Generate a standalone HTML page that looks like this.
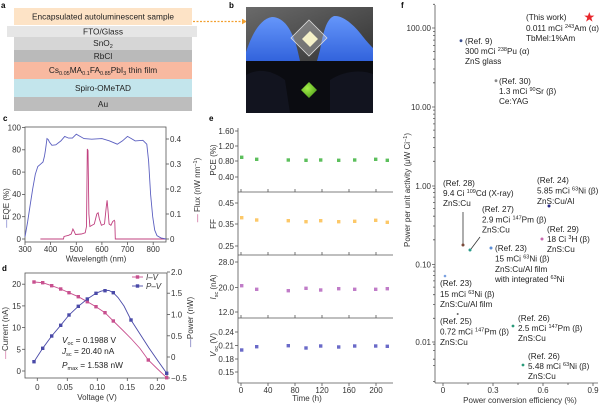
<!DOCTYPE html>
<html><head><meta charset="utf-8">
<style>
html,body{margin:0;padding:0;background:#fff;}
svg{display:block;font-family:"Liberation Sans",Arial,sans-serif;}
</style></head>
<body>
<svg width="600" height="406" viewBox="0 0 600 406" xmlns="http://www.w3.org/2000/svg">
<defs>
<linearGradient id="bgTop" x1="0" y1="0" x2="1" y2="1"><stop offset="0" stop-color="#6a6a6a"/><stop offset="1" stop-color="#333"/></linearGradient>
<linearGradient id="glove" x1="0" y1="0" x2="0" y2="1"><stop offset="0" stop-color="#6596fa"/><stop offset="1" stop-color="#3263dc"/></linearGradient>
<radialGradient id="green" cx="0.4" cy="0.4" r="0.7"><stop offset="0" stop-color="#a6f04a"/><stop offset="1" stop-color="#4a9a18"/></radialGradient>
</defs>

<!-- ============ Panel a ============ -->
<text x="1" y="8" font-size="8" font-weight="bold">a</text>
<rect x="14" y="8" width="178" height="17" fill="#fde3c6"/>
<text x="103" y="19.5" font-size="8.3" text-anchor="middle" fill="#222">Encapsulated autoluminescent sample</text>
<rect x="7" y="26" width="190" height="11" fill="#e6e6e6"/>
<text x="103" y="34.5" font-size="8.3" text-anchor="middle" fill="#222">FTO/Glass</text>
<rect x="14" y="37" width="178" height="13" fill="#d6d6d6"/>
<text x="103" y="46" font-size="8.3" text-anchor="middle" fill="#222">SnO<tspan font-size="5.5" dy="2">2</tspan></text>
<rect x="14" y="50" width="178" height="12" fill="#bababa"/>
<text x="103" y="59" font-size="8.3" text-anchor="middle" fill="#222">RbCl</text>
<rect x="14" y="62" width="178" height="17" fill="#f8b9a0"/>
<text x="103" y="73" font-size="8.3" text-anchor="middle" fill="#222">Cs<tspan font-size="5.5" dy="2">0.05</tspan><tspan dy="-2">MA</tspan><tspan font-size="5.5" dy="2">0.1</tspan><tspan dy="-2">FA</tspan><tspan font-size="5.5" dy="2">0.85</tspan><tspan dy="-2">PbI</tspan><tspan font-size="5.5" dy="2">3</tspan><tspan dy="-2"> thin film</tspan></text>
<rect x="14" y="79" width="178" height="18" fill="#c3e5ec"/>
<text x="103" y="91" font-size="8.3" text-anchor="middle" fill="#222">Spiro-OMeTAD</text>
<rect x="14" y="97" width="178" height="14" fill="#bdbdbd"/>
<text x="103" y="107" font-size="8.3" text-anchor="middle" fill="#222">Au</text>
<line x1="193" y1="21.5" x2="243" y2="21.5" stroke="#f2a030" stroke-width="1.2" stroke-dasharray="2,1.5"/>
<polygon points="242,18.8 247,21.5 242,24.2" fill="#f2a030"/>

<!-- ============ Panel b ============ -->
<text x="229" y="8" font-size="8" font-weight="bold">b</text>
<rect x="246" y="7" width="127" height="54" fill="url(#bgTop)"/>
<path d="M246,52 C252,34 260,19 272,17 C284,17 292,30 297,48 L300,61 L246,61 Z" fill="url(#glove)"/>
<path d="M320,50 C323,34 326,19 334,16 C344,15 356,27 364,38 C368,43 372,47 373,48 L373,61 L317,61 Z" fill="url(#glove)"/>
<polygon points="309,20 327,38 309,56 291,38" fill="rgba(220,220,220,0.3)" stroke="#dcdcdc" stroke-width="0.8"/>
<polygon points="310,31 318,39 310,47 302,39" fill="#f5f1c8"/>
<rect x="246" y="61" width="127" height="52" fill="#0b0c11"/>
<path d="M246,75 C258,68 272,70 285,80 L290,113 L246,113 Z" fill="#12141f"/>
<path d="M330,80 C345,70 362,70 373,74 L373,113 L330,113 Z" fill="#12141f"/>
<polygon points="309,82 317,90 309,98 301,90" fill="url(#green)"/>

<!-- ============ Panel c ============ -->
<text x="3" y="121" font-size="8" font-weight="bold">c</text>
<rect x="25" y="127" width="141" height="115" fill="none" stroke="#555" stroke-width="0.8"/>
<g stroke="#555" stroke-width="0.8">
<line x1="22" y1="239" x2="25" y2="239"/><line x1="22" y1="216.7" x2="25" y2="216.7"/><line x1="22" y1="194.4" x2="25" y2="194.4"/><line x1="22" y1="172.1" x2="25" y2="172.1"/><line x1="22" y1="149.8" x2="25" y2="149.8"/><line x1="22" y1="127.5" x2="25" y2="127.5"/>
<line x1="166" y1="239" x2="169" y2="239"/><line x1="166" y1="214" x2="169" y2="214"/><line x1="166" y1="189" x2="169" y2="189"/><line x1="166" y1="164" x2="169" y2="164"/><line x1="166" y1="139" x2="169" y2="139"/>
<line x1="25" y1="242" x2="25" y2="245"/><line x1="50.6" y1="242" x2="50.6" y2="245"/><line x1="76.3" y1="242" x2="76.3" y2="245"/><line x1="101.9" y1="242" x2="101.9" y2="245"/><line x1="127.5" y1="242" x2="127.5" y2="245"/><line x1="153.2" y1="242" x2="153.2" y2="245"/>
</g>
<g font-size="8" fill="#333" text-anchor="end">
<text x="21" y="242">0</text><text x="21" y="219.5">20</text><text x="21" y="197">40</text><text x="21" y="175">60</text><text x="21" y="152.5">80</text><text x="21" y="130.5">100</text>
</g>
<g font-size="8" fill="#333">
<text x="170" y="242">0</text><text x="170" y="217">0.1</text><text x="170" y="192">0.2</text><text x="170" y="167">0.3</text><text x="170" y="142">0.4</text>
</g>
<g font-size="8" fill="#333" text-anchor="middle">
<text x="25" y="252">300</text><text x="50.6" y="252">400</text><text x="76.3" y="252">500</text><text x="101.9" y="252">600</text><text x="127.5" y="252">700</text><text x="153.2" y="252">800</text>
<text x="96" y="261.5">Wavelength (nm)</text>
</g>
<text transform="translate(9,208) rotate(-90)" font-size="8" fill="#333" text-anchor="middle"><tspan fill="#5b5fc0">—</tspan>EQE (%)</text>
<text transform="translate(200,190) rotate(-90)" font-size="8" fill="#333" text-anchor="middle"><tspan fill="#c0407f">—</tspan> Flux (nW nm<tspan font-size="5.5" dy="-3">−1</tspan><tspan dy="3">)</tspan></text>
<polyline fill="none" stroke="#c0407f" stroke-width="0.9" points="40.4,239 63.5,239 64,236.5 68.6,235.3 71.2,234 72.9,229 74.2,231.5 75.5,234.5 81.4,234 85.2,232.8 86.5,226.5 87.3,149 88,150.5 88.9,214 89.9,226.5 94.3,224 96.8,214 98.1,212.8 99.4,219 101.4,225.3 104.5,224 106.3,206.5 107.1,200.3 107.9,209 109.1,224 110.9,225.3 112.7,221.5 114.3,220.3 114.8,221.5 115.3,239 166,239"/>
<polyline fill="none" stroke="#5b5fc0" stroke-width="0.9" points="25,236.8 27.6,222 30.1,205.5 32.7,188.8 35.3,174.3 37.8,166.5 40.4,164.3 43,162 44.5,156 45.5,149.8 47,138.6 48.2,139.5 49.4,142 51.9,145.3 55.8,144.8 60.9,140.9 64.7,136.4 68.6,138.1 72.4,138.1 76.3,134.2 80.1,136.4 84,138.6 91.7,139.2 101.9,138.6 109.6,140.9 117.3,144.2 122.4,140.9 127.5,136.4 131.4,138.6 135.2,140.9 142.9,140.3 146.8,144.2 148.6,161 150.6,194.4 152.7,216.7 154.7,230.1 157,235.7 160.9,237.9 166,239"/>

<!-- ============ Panel d ============ -->
<text x="2" y="271" font-size="8" font-weight="bold">d</text>
<rect x="25" y="273" width="142" height="105" fill="none" stroke="#555" stroke-width="0.8"/>
<g stroke="#555" stroke-width="0.8">
<line x1="22" y1="371" x2="25" y2="371"/><line x1="22" y1="349.3" x2="25" y2="349.3"/><line x1="22" y1="327.6" x2="25" y2="327.6"/><line x1="22" y1="305.9" x2="25" y2="305.9"/><line x1="22" y1="284.2" x2="25" y2="284.2"/>
<line x1="167" y1="272" x2="170" y2="272"/><line x1="167" y1="293.2" x2="170" y2="293.2"/><line x1="167" y1="314.6" x2="170" y2="314.6"/><line x1="167" y1="335.8" x2="170" y2="335.8"/><line x1="167" y1="357" x2="170" y2="357"/><line x1="167" y1="378" x2="170" y2="378"/>
<line x1="37.3" y1="378" x2="37.3" y2="381"/><line x1="67.3" y1="378" x2="67.3" y2="381"/><line x1="97.3" y1="378" x2="97.3" y2="381"/><line x1="127.3" y1="378" x2="127.3" y2="381"/><line x1="157.3" y1="378" x2="157.3" y2="381"/>
</g>
<g font-size="8" fill="#333" text-anchor="end">
<text x="21" y="374">0</text><text x="21" y="352.3">5</text><text x="21" y="330.6">10</text><text x="21" y="308.9">15</text><text x="21" y="287.2">20</text>
</g>
<g font-size="8" fill="#333">
<text x="171" y="275">2.0</text><text x="171" y="296.2">1.5</text><text x="171" y="317.6">1.0</text><text x="171" y="338.8">0.5</text><text x="171" y="360">0</text><text x="171" y="381">−0.5</text>
</g>
<g font-size="8" fill="#333" text-anchor="middle">
<text x="37.3" y="390">0</text><text x="65" y="390">0.05</text><text x="97.3" y="390">0.10</text><text x="127.3" y="390">0.15</text><text x="157.3" y="390">0.20</text>
<text x="97" y="400">Voltage (V)</text>
</g>
<text transform="translate(8,333) rotate(-90)" font-size="8" fill="#333" text-anchor="middle"><tspan fill="#c8508f">—</tspan>Current (nA)</text>
<text transform="translate(193,322) rotate(-90)" font-size="8" fill="#333" text-anchor="middle"><tspan fill="#4a4aa8">—</tspan>Power (nW)</text>
<polyline fill="none" stroke="#c8508f" stroke-width="0.9" points="34,282 42.7,282.7 51.7,285.7 60.7,289 69,292.7 78.3,296.7 87.3,301.7 96,306.7 105,312.7 113.3,321 122,329.5 131,338.5 140,348.5 148.3,360 157,368.5 166.7,377.7"/>
<polyline fill="none" stroke="#4a4aa8" stroke-width="0.9" points="34,361.7 42.7,348.3 51.7,336 60.7,325.3 69,315 78.3,306.3 87.3,299 96,293.3 101,291.2 105,290.3 109,290.5 113.3,292.7 118,297.5 124,306 131,320 140,334 149,348 158,361 166.7,373.3"/>
<g fill="#c8508f">
<rect x="32.3" y="280.3" width="3.4" height="3.4"/><rect x="41" y="281" width="3.4" height="3.4"/><rect x="50" y="284" width="3.4" height="3.4"/><rect x="59" y="287.3" width="3.4" height="3.4"/><rect x="67.3" y="291" width="3.4" height="3.4"/><rect x="76.6" y="295" width="3.4" height="3.4"/><rect x="85.6" y="300" width="3.4" height="3.4"/><rect x="94.3" y="305" width="3.4" height="3.4"/><rect x="103.3" y="311" width="3.4" height="3.4"/><rect x="111.6" y="319.3" width="3.4" height="3.4"/><rect x="146.6" y="358.3" width="3.4" height="3.4"/><rect x="165" y="376" width="3.4" height="3.4"/>
</g>
<g fill="#4a4aa8">
<rect x="32.3" y="360" width="3.4" height="3.4"/><rect x="41" y="346.6" width="3.4" height="3.4"/><rect x="50" y="334.3" width="3.4" height="3.4"/><rect x="59" y="323.6" width="3.4" height="3.4"/><rect x="67.3" y="313.3" width="3.4" height="3.4"/><rect x="76.6" y="304.6" width="3.4" height="3.4"/><rect x="85.6" y="297.3" width="3.4" height="3.4"/><rect x="94.3" y="291.6" width="3.4" height="3.4"/><rect x="103.3" y="289" width="3.4" height="3.4"/><rect x="111.6" y="291" width="3.4" height="3.4"/><rect x="129.3" y="318.3" width="3.4" height="3.4"/><rect x="165" y="371.6" width="3.4" height="3.4"/>
</g>
<line x1="132" y1="277" x2="143" y2="277" stroke="#c8508f" stroke-width="0.9"/><rect x="135.8" y="275.3" width="3.4" height="3.4" fill="#c8508f"/>
<text x="146" y="280" font-size="8" font-style="italic" fill="#333">I–V</text>
<line x1="132" y1="286" x2="143" y2="286" stroke="#4a4aa8" stroke-width="0.9"/><rect x="135.8" y="284.3" width="3.4" height="3.4" fill="#4a4aa8"/>
<text x="146" y="289" font-size="8" font-style="italic" fill="#333">P–V</text>
<g font-size="8.3" fill="#222">
<text x="62" y="343"><tspan font-style="italic">V</tspan><tspan font-size="5.5" dy="2">oc</tspan><tspan dy="-2"> = 0.1988 V</tspan></text>
<text x="62" y="354"><tspan font-style="italic">J</tspan><tspan font-size="5.5" dy="2">sc</tspan><tspan dy="-2"> = 20.40 nA</tspan></text>
<text x="62" y="368"><tspan font-style="italic">P</tspan><tspan font-size="5.5" dy="2">max</tspan><tspan dy="-2"> = 1.538 nW</tspan></text>
</g>

<!-- ============ Panel e ============ -->
<text x="209" y="121" font-size="8" font-weight="bold">e</text>
<g stroke="#555" stroke-width="0.8">
<line x1="238" y1="128" x2="238" y2="383"/>
<line x1="238" y1="192" x2="393" y2="192"/><line x1="238" y1="255" x2="393" y2="255"/><line x1="238" y1="318" x2="393" y2="318"/><line x1="238" y1="383" x2="393" y2="383"/>
<line x1="235" y1="131" x2="238" y2="131"/><line x1="235" y1="146" x2="238" y2="146"/><line x1="235" y1="161" x2="238" y2="161"/><line x1="235" y1="177" x2="238" y2="177"/>
<line x1="235" y1="203" x2="238" y2="203"/><line x1="235" y1="224" x2="238" y2="224"/><line x1="235" y1="246" x2="238" y2="246"/>
<line x1="235" y1="262" x2="238" y2="262"/><line x1="235" y1="287.5" x2="238" y2="287.5"/><line x1="235" y1="312" x2="238" y2="312"/>
<line x1="235" y1="332" x2="238" y2="332"/><line x1="235" y1="345.5" x2="238" y2="345.5"/><line x1="235" y1="359" x2="238" y2="359"/><line x1="235" y1="372" x2="238" y2="372"/>
</g>
<g stroke="#555" stroke-width="0.8">
<path d="M241,192v-3M268,192v-3M295,192v-3M322,192v-3M349,192v-3M376,192v-3"/>
<path d="M241,255v-3M268,255v-3M295,255v-3M322,255v-3M349,255v-3M376,255v-3"/>
<path d="M241,318v-3M268,318v-3M295,318v-3M322,318v-3M349,318v-3M376,318v-3"/>
<path d="M241,383v3M268,383v3M295,383v3M322,383v3M349,383v3M376,383v3"/>
</g>
<g font-size="8" fill="#333" text-anchor="end">
<text x="234" y="134">1.60</text><text x="234" y="149">1.20</text><text x="234" y="164">0.80</text><text x="234" y="180">0.40</text>
<text x="234" y="206">0.45</text><text x="234" y="227">0.35</text><text x="234" y="249">0.25</text>
<text x="234" y="265">28.0</text><text x="234" y="290.5">20.0</text><text x="234" y="315">12.0</text>
<text x="234" y="335">0.24</text><text x="234" y="348.5">0.21</text><text x="234" y="362">0.18</text><text x="234" y="375">0.15</text>
</g>
<g font-size="8" fill="#333" text-anchor="middle">
<text x="241" y="393">0</text><text x="268" y="393">40</text><text x="295" y="393">80</text><text x="322" y="393">120</text><text x="349" y="393">160</text><text x="376" y="393">200</text>
<text x="307" y="401">Time (h)</text>
</g>
<g font-size="8" fill="#333" text-anchor="middle">
<text transform="translate(216,160) rotate(-90)">PCE (%)</text>
<text transform="translate(216,224) rotate(-90)">FF</text>
<text transform="translate(216,287) rotate(-90)"><tspan font-style="italic">I</tspan><tspan font-size="5.5" dy="2">sc</tspan><tspan dy="-2"> (nA)</tspan></text>
<text transform="translate(216,345) rotate(-90)"><tspan font-style="italic">V</tspan><tspan font-size="5.5" dy="2">oc</tspan><tspan dy="-2"> (V)</tspan></text>
</g>
<g fill="#5cbf5c">
<rect x="240" y="155.6" width="3.4" height="3.4"/><rect x="255" y="157.6" width="3.4" height="3.4"/><rect x="286.6" y="158.3" width="3.4" height="3.4"/><rect x="304.3" y="158.6" width="3.4" height="3.4"/><rect x="319" y="158.3" width="3.4" height="3.4"/><rect x="337" y="158.6" width="3.4" height="3.4"/><rect x="353" y="158.3" width="3.4" height="3.4"/><rect x="374" y="157.6" width="3.4" height="3.4"/><rect x="385.6" y="158.6" width="3.4" height="3.4"/>
</g>
<g fill="#fcc868">
<rect x="240" y="216" width="3.4" height="3.4"/><rect x="255" y="218.3" width="3.4" height="3.4"/><rect x="286.6" y="219" width="3.4" height="3.4"/><rect x="304.3" y="220" width="3.4" height="3.4"/><rect x="319" y="219" width="3.4" height="3.4"/><rect x="337" y="220" width="3.4" height="3.4"/><rect x="353" y="219.6" width="3.4" height="3.4"/><rect x="374" y="218.6" width="3.4" height="3.4"/><rect x="385.6" y="220.6" width="3.4" height="3.4"/>
</g>
<g fill="#c07cc8">
<rect x="240" y="284" width="3.4" height="3.4"/><rect x="255" y="287.6" width="3.4" height="3.4"/><rect x="286.6" y="289" width="3.4" height="3.4"/><rect x="304.3" y="286.6" width="3.4" height="3.4"/><rect x="319" y="288.3" width="3.4" height="3.4"/><rect x="337" y="287" width="3.4" height="3.4"/><rect x="353" y="287.6" width="3.4" height="3.4"/><rect x="374" y="287.6" width="3.4" height="3.4"/><rect x="385.6" y="287" width="3.4" height="3.4"/>
</g>
<g fill="#6a6ac8">
<rect x="240" y="348.3" width="3.4" height="3.4"/><rect x="255" y="345" width="3.4" height="3.4"/><rect x="286.6" y="344" width="3.4" height="3.4"/><rect x="304.3" y="346.3" width="3.4" height="3.4"/><rect x="319" y="344.3" width="3.4" height="3.4"/><rect x="337" y="345.3" width="3.4" height="3.4"/><rect x="353" y="344.3" width="3.4" height="3.4"/><rect x="374" y="344.3" width="3.4" height="3.4"/><rect x="385.6" y="344.6" width="3.4" height="3.4"/>
</g>

<!-- ============ Panel f ============ -->
<text x="401" y="8" font-size="8" font-weight="bold">f</text>
<g stroke="#555" stroke-width="0.8">
<line x1="435" y1="5" x2="435" y2="383"/>
<line x1="435" y1="383" x2="598" y2="383"/>
<path d="M432,28h3M432,107h3M432,186h3M432,264.6h3M432,342h3"/>
<path d="M433,381.4h2M433,365.6h2M433,359.2h2M433,350.6h2M433,344.2h2
M433,318.3h2M433,304.5h2M433,294.7h2M433,287.1h2M433,280.9h2M433,275.6h2M433,271.1h2M433,267.1h2
M433,239.8h2M433,226h2M433,216.2h2M433,208.6h2M433,202.4h2M433,197.1h2M433,192.6h2M433,188.6h2
M433,161.3h2M433,147.5h2M433,137.7h2M433,130.1h2M433,123.9h2M433,118.6h2M433,114.1h2M433,110.1h2
M433,82.8h2M433,69h2M433,59.2h2M433,51.6h2M433,45.4h2M433,40.1h2M433,35.6h2M433,31.6h2
M433,4.3h2"/>
<path d="M443,383v3M493,383v3M543,383v3M593,383v3"/>
<path d="M468,383v2M518,383v2M568,383v2"/>
</g>
<g font-size="8" fill="#333" text-anchor="end">
<text x="431" y="31">100.00</text><text x="431" y="110">10.00</text><text x="431" y="189">1.00</text><text x="431" y="267.5">0.10</text><text x="431" y="345">0.01</text>
</g>
<g font-size="8" fill="#333" text-anchor="middle">
<text x="443" y="393">0</text><text x="493" y="393">0.3</text><text x="543" y="393">0.6</text><text x="593" y="393">0.9</text>
<text x="520" y="403">Power conversion efficiency (%)</text>
</g>
<text transform="translate(410,190) rotate(-90)" font-size="8" fill="#333" text-anchor="middle">Power per unit activity (μW Ci<tspan font-size="5.5" dy="-3">−1</tspan><tspan dy="3">)</tspan></text>

<polygon points="589.3,12 590.6,15.6 594.4,15.6 591.3,17.9 592.5,21.6 589.3,19.4 586.1,21.6 587.3,17.9 584.2,15.6 588,15.6" fill="#e8262b"/>
<g font-size="8.2" fill="#222">
<text x="526" y="20">(This work)</text>
<text x="526" y="31">0.011 mCi <tspan font-size="5.5" dy="-3">243</tspan><tspan dy="3">Am (α)</tspan></text>
<text x="526" y="41">TbMel:1%Am</text>

<text x="465" y="44">(Ref. 9)</text>
<text x="465" y="54">300 mCi <tspan font-size="5.5" dy="-3">238</tspan><tspan dy="3">Pu (α)</tspan></text>
<text x="465" y="64">ZnS glass</text>

<text x="499" y="84">(Ref. 30)</text>
<text x="499" y="94">1.3 mCi <tspan font-size="5.5" dy="-3">90</tspan><tspan dy="3">Sr (β)</tspan></text>
<text x="499" y="104">Ce:YAG</text>

<text x="443" y="186">(Ref. 28)</text>
<text x="443" y="196">9.4 Ci <tspan font-size="5.5" dy="-3">109</tspan><tspan dy="3">Cd (X-ray)</tspan></text>
<text x="443" y="206">ZnS:Cu</text>

<text x="482" y="212">(Ref. 27)</text>
<text x="482" y="222.5">2.9 mCi <tspan font-size="5.5" dy="-3">147</tspan><tspan dy="3">Pm (β)</tspan></text>
<text x="482" y="232.5">ZnS:Cu</text>

<text x="537" y="183">(Ref. 24)</text>
<text x="537" y="193.5">5.85 mCi <tspan font-size="5.5" dy="-3">63</tspan><tspan dy="3">Ni (β)</tspan></text>
<text x="537" y="204">ZnS:Cu/Al</text>

<text x="547" y="232">(Ref. 29)</text>
<text x="547" y="242">18 Ci <tspan font-size="5.5" dy="-3">3</tspan><tspan dy="3">H (β)</tspan></text>
<text x="547" y="252">ZnS:Cu</text>

<text x="495" y="251">(Ref. 23)</text>
<text x="495" y="261.5">15 mCi <tspan font-size="5.5" dy="-3">63</tspan><tspan dy="3">Ni (β)</tspan></text>
<text x="495" y="272">ZnS:Cu/Al film</text>
<text x="495" y="282">with integrated <tspan font-size="5.5" dy="-3">63</tspan><tspan dy="3">Ni</tspan></text>

<text x="440" y="286">(Ref. 23)</text>
<text x="440" y="297">15 mCi <tspan font-size="5.5" dy="-3">63</tspan><tspan dy="3">Ni (β)</tspan></text>
<text x="440" y="307">ZnS:Cu/Al film</text>

<text x="440" y="324">(Ref. 25)</text>
<text x="440" y="334.5">0.72 mCi <tspan font-size="5.5" dy="-3">147</tspan><tspan dy="3">Pm (β)</tspan></text>
<text x="440" y="345">ZnS:Cu</text>

<text x="518" y="321">(Ref. 26)</text>
<text x="518" y="331">2.5 mCi <tspan font-size="5.5" dy="-3">147</tspan><tspan dy="3">Pm (β)</tspan></text>
<text x="518" y="341">ZnS:Cu</text>

<text x="528" y="359">(Ref. 26)</text>
<text x="528" y="369">5.48 mCi <tspan font-size="5.5" dy="-3">63</tspan><tspan dy="3">Ni (β)</tspan></text>
<text x="528" y="379">ZnS:Cu</text>
</g>
<g stroke="#333" stroke-width="0.8">
<line x1="463" y1="212" x2="463" y2="244"/>
<line x1="480" y1="237" x2="471" y2="249"/>
</g>
<circle cx="461" cy="40.7" r="1.4" fill="#3b4f8f"/>
<circle cx="496" cy="80.7" r="1.4" fill="#888"/>
<circle cx="463" cy="245" r="1.5" fill="#7a4a3a"/>
<circle cx="470" cy="250" r="1.5" fill="#2a9a8a"/>
<circle cx="491" cy="248" r="1.5" fill="#5b8dd6"/>
<circle cx="549" cy="206" r="1.5" fill="#2a2a8a"/>
<circle cx="542" cy="239" r="1.5" fill="#c86ab0"/>
<circle cx="445" cy="276" r="1.3" fill="#7aa0e0"/>
<circle cx="457.7" cy="314" r="1" fill="#666"/>
<circle cx="513" cy="326" r="1.4" fill="#2a9a7a"/>
<circle cx="523" cy="365" r="1.4" fill="#2a9a7a"/>
</svg>
</body></html>
